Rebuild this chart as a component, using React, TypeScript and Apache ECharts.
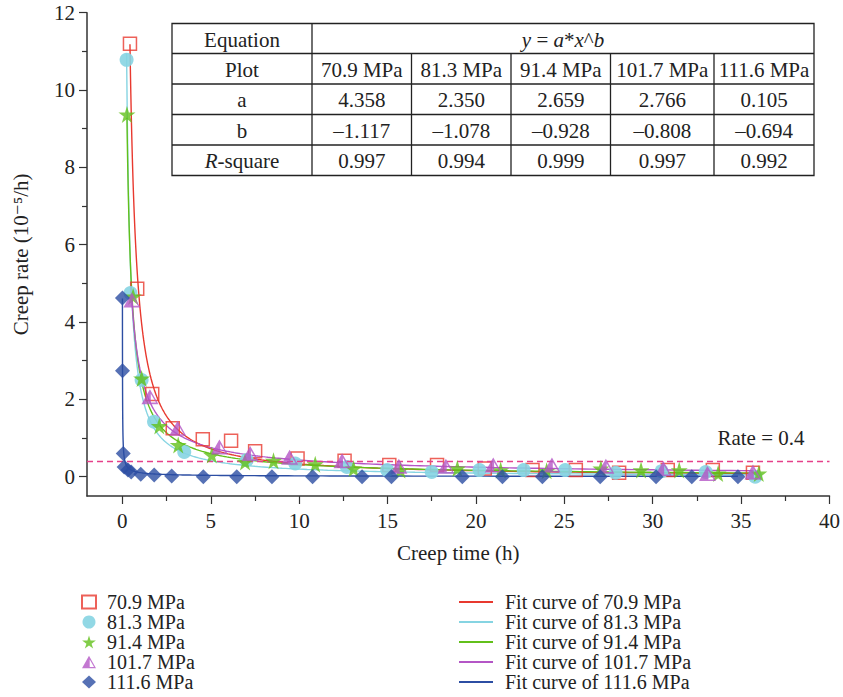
import React, { useEffect, useRef } from "react";
import * as echarts from "echarts";

// Measured creep rate (10^-5/h) against creep time (h) for each stress level
const stressLabels = ["70.9 MPa", "81.3 MPa", "91.4 MPa", "101.7 MPa", "111.6 MPa"];

const time709 = [0.43, 0.84, 1.69, 2.85, 4.55, 6.15, 7.51, 9.91, 12.57, 15.1, 17.8, 20.5, 23.2, 25.65, 28.1, 30.85, 33.4, 35.67];
const rate709 = [11.2, 4.86, 2.14, 1.25, 0.97, 0.93, 0.66, 0.47, 0.41, 0.3, 0.3, 0.21, 0.17, 0.17, 0.1, 0.17, 0.17, 0.1];

const time813 = [0.24, 0.46, 1.09, 1.79, 3.5, 7.04, 9.78, 12.7, 14.98, 17.5, 20.2, 22.7, 25.05, 27.9, 30.5, 33.0, 35.8];
const rate813 = [10.78, 4.75, 2.5, 1.42, 0.64, 0.43, 0.34, 0.25, 0.17, 0.12, 0.17, 0.17, 0.17, 0.1, 0.14, 0.12, 0.0];

const time914 = [0.26, 0.61, 1.09, 2.09, 3.16, 5.06, 6.94, 8.55, 10.91, 13.08, 15.73, 18.95, 21.4, 24.0, 27.07, 29.34, 31.5, 33.7, 36.0];
const rate914 = [9.37, 4.66, 2.54, 1.31, 0.82, 0.56, 0.38, 0.41, 0.32, 0.21, 0.17, 0.21, 0.17, 0.15, 0.21, 0.17, 0.17, 0.08, 0.08];

const time1017 = [0.54, 1.56, 3.13, 5.49, 7.23, 9.46, 12.43, 15.64, 18.3, 20.98, 24.3, 27.35, 30.6, 33.1, 35.67];
const rate1017 = [4.57, 2.07, 1.25, 0.77, 0.6, 0.5, 0.41, 0.27, 0.27, 0.3, 0.3, 0.27, 0.21, 0.08, 0.12];

const time1116 = [0.0043, 0.009, 0.05, 0.1, 0.32, 0.5, 1.04, 1.8, 2.79, 4.58, 6.47, 8.46, 10.76, 13.56, 15.22, 19.23, 21.5, 23.76, 27.03, 30.19, 32.21, 34.82];
const rate1116 = [4.62, 2.74, 0.6, 0.25, 0.17, 0.12, 0.06, 0.04, 0.02, 0.0, 0.0, 0.0, 0.0, 0.0, 0.0, 0.0, 0.0, 0.0, 0.0, 0.0, 0.0, 0.0];

// Power-law fit parameters y = a * x^b
const fitA = [4.358, 2.35, 2.659, 2.766, 0.105];
const fitB = [-1.117, -1.078, -0.928, -0.808, -0.694];
const aText = ["4.358", "2.350", "2.659", "2.766", "0.105"];
const bText = ["\u20131.117", "\u20131.078", "\u20130.928", "\u20130.808", "\u20130.694"];
const r2Text = ["0.997", "0.994", "0.999", "0.997", "0.992"];

const rateThreshold = 0.4;

const xMajorTicks = [0, 5, 10, 15, 20, 25, 30, 35, 40];
const xMinorTicks = [2.5, 7.5, 12.5, 17.5, 22.5, 27.5, 32.5, 37.5];
const yMajorTicks = [0, 2, 4, 6, 8, 10, 12];
const yMinorTicks = [1, 3, 5, 7, 9, 11];

const times = [time709, time813, time914, time1017, time1116];
const rates = [rate709, rate813, rate914, rate1017, rate1116];

const colors = ["#e8392f", "#86d4e2", "#62c01a", "#b456c6", "#2c4ea3"];
const FONT = '"Liberation Serif", "DejaVu Serif", serif';
const FS = 21;
const LEGEND_FS = 20;

const STAR = "path://M50,0 L61,35 L98,35 L68,57 L79,91 L50,70 L21,91 L32,57 L2,35 L39,35 Z";
const HALF_TRI = "path://M50,0 L100,90 L0,90 Z M55,28 L55,80 L86,80 Z";

function fitCurve(k: number): number[][] {
  const xs = times[k];
  const x0 = xs[0];
  const x1 = xs[xs.length - 1];
  const n = 240;
  const pts: number[][] = [];
  for (let i = 0; i <= n; i++) {
    const x = x0 * Math.pow(x1 / x0, i / n);
    pts.push([x, fitA[k] * Math.pow(x, fitB[k])]);
  }
  return pts;
}

function buildTable(): any[] {
  const cols = [172, 312, 411.5, 511, 610.5, 714, 814];
  const rows = [23.5, 53.5, 84, 114.5, 145, 175.5];
  const stroke = { stroke: "#222", lineWidth: 1.3 };
  const els: any[] = [];
  els.push({
    type: "rect",
    shape: { x: cols[0], y: rows[0], width: cols[6] - cols[0], height: rows[5] - rows[0] },
    style: { fill: "#fff", ...stroke },
    z: 10,
  });
  for (let r = 1; r < 5; r++) {
    els.push({ type: "line", shape: { x1: cols[0], y1: rows[r], x2: cols[6], y2: rows[r] }, style: stroke, z: 11 });
  }
  els.push({ type: "line", shape: { x1: cols[1], y1: rows[0], x2: cols[1], y2: rows[5] }, style: stroke, z: 11 });
  for (let c = 2; c < 6; c++) {
    els.push({ type: "line", shape: { x1: cols[c], y1: rows[1], x2: cols[c], y2: rows[5] }, style: stroke, z: 11 });
  }
  const cell = (text: string, cx: number, cy: number, rich?: any) => ({
    type: "text",
    x: cx,
    y: cy + 1,
    z: 12,
    style: {
      text,
      fill: "#222",
      font: `${FS}px ${FONT}`,
      align: "center",
      verticalAlign: "middle",
      rich,
    },
  });
  const mid = (arr: number[], i: number) => (arr[i] + arr[i + 1]) / 2;
  const italic = { i: { fontStyle: "italic", fontSize: FS, fontFamily: FONT, fill: "#222" } };
  els.push(cell("Equation", mid(cols, 0), mid(rows, 0)));
  els.push(cell("{i|y} = {i|a}*{i|x}^{i|b}", (cols[1] + cols[6]) / 2, mid(rows, 0), italic));
  els.push(cell("Plot", mid(cols, 0), mid(rows, 1)));
  els.push(cell("a", mid(cols, 0), mid(rows, 2)));
  els.push(cell("b", mid(cols, 0), mid(rows, 3)));
  els.push(cell("{i|R}-square", mid(cols, 0), mid(rows, 4), italic));
  for (let k = 0; k < 5; k++) {
    const cx = mid(cols, k + 1);
    els.push(cell(stressLabels[k], cx, mid(rows, 1)));
    els.push(cell(aText[k], cx, mid(rows, 2)));
    els.push(cell(bText[k], cx, mid(rows, 3)));
    els.push(cell(r2Text[k], cx, mid(rows, 4)));
  }
  return els;
}

export default function App() {
  const ref = useRef<HTMLDivElement>(null);

  useEffect(() => {
    if (!ref.current) return;
    const chart = echarts.init(ref.current, null, { renderer: "svg" });

    const symbols = ["rect", "circle", STAR, HALF_TRI, "diamond"];
    const sizes = [13, 14, 17, [17, 15], 15];

    const fitSeries: any[] = stressLabels.map((label, k) => ({
      type: "line",
      name: `Fit curve of ${label}`,
      data: fitCurve(k),
      showSymbol: false,
      symbol: "none",
      color: colors[k],
      lineStyle: { color: colors[k], width: 1.4 },
      z: 2,
      ...(k === 0
        ? {
            markLine: {
              silent: true,
              symbol: "none",
              lineStyle: { color: "#e5408a", type: [6, 4], width: 1.3 },
              label: {
                show: true,
                position: "insideEndTop",
                formatter: "Rate = 0.4",
                color: "#222",
                fontFamily: FONT,
                fontSize: FS,
                padding: [0, 20, 8, 0],
              },
              data: [{ yAxis: rateThreshold }],
            },
          }
        : {}),
    }));

    const pointSeries: any[] = stressLabels.map((label, k) => ({
      type: "scatter",
      name: label,
      data: times[k].map((t, i) => [t, rates[k][i]]),
      symbol: symbols[k],
      symbolSize: sizes[k],
      color: colors[k],
      itemStyle:
        k === 0
          ? { color: "rgba(255,255,255,0)", borderColor: colors[0], borderWidth: 1.5 }
          : k === 1
          ? { color: colors[1], opacity: 0.9 }
          : { color: colors[k] },
      z: 3 + k,
    }));

    const legendText = { fontFamily: FONT, fontSize: LEGEND_FS, color: "#222", lineHeight: 20 };

    chart.setOption({
      animation: false,
      backgroundColor: "#fff",
      textStyle: { fontFamily: FONT },
      grid: { left: 87, right: 12, top: 12.7, bottom: 201, containLabel: false },
      xAxis: [
        {
          type: "value",
          min: -2,
          max: 40,
          position: "bottom",
          name: "Creep time (h)",
          nameLocation: "middle",
          nameGap: 46,
          nameTextStyle: { fontFamily: FONT, fontSize: FS, color: "#222" },
          axisLine: { onZero: false, lineStyle: { color: "#333", width: 1.5 } },
          axisTick: { customValues: xMajorTicks, length: 8, lineStyle: { color: "#333", width: 1.2 } },
          axisLabel: { customValues: xMajorTicks, fontFamily: FONT, fontSize: FS, color: "#222", margin: 14 },
          splitLine: { show: false },
        },
        {
          type: "value",
          min: -2,
          max: 40,
          position: "bottom",
          axisLine: { show: false, onZero: false },
          axisTick: { customValues: xMinorTicks, length: 5, lineStyle: { color: "#333", width: 1.2 } },
          axisLabel: { show: false },
          splitLine: { show: false },
        },
      ],
      yAxis: [
        {
          type: "value",
          min: -0.5,
          max: 12,
          name: "Creep rate (10\u207B\u2075/h)",
          nameLocation: "middle",
          nameGap: 56,
          nameTextStyle: { fontFamily: FONT, fontSize: FS, color: "#222" },
          axisLine: { show: true, onZero: false, lineStyle: { color: "#333", width: 1.5 } },
          axisTick: { show: true, customValues: yMajorTicks, length: 8, lineStyle: { color: "#333", width: 1.2 } },
          axisLabel: { customValues: yMajorTicks, fontFamily: FONT, fontSize: FS, color: "#222", margin: 12 },
          splitLine: { show: false },
        },
        {
          type: "value",
          min: -0.5,
          max: 12,
          position: "left",
          axisLine: { show: false, onZero: false },
          axisTick: { show: true, customValues: yMinorTicks, length: 5, lineStyle: { color: "#333", width: 1.2 } },
          axisLabel: { show: false },
          splitLine: { show: false },
        },
      ],
      legend: [
        {
          orient: "vertical",
          left: 81,
          top: 592,
          padding: 0,
          itemWidth: 14,
          itemHeight: 13,
          itemGap: 0,
          data: stressLabels,
          textStyle: { ...legendText, padding: [0, 0, 0, 6] },
        },
        {
          orient: "vertical",
          left: 459,
          top: 592,
          padding: 0,
          icon: "rect",
          itemWidth: 34,
          itemHeight: 2,
          itemGap: 0,
          data: stressLabels.map((l) => `Fit curve of ${l}`),
          textStyle: { ...legendText, padding: [0, 0, 0, 7] },
        },
      ],
      graphic: buildTable(),
      series: [...fitSeries, ...pointSeries],
    });

    return () => chart.dispose();
  }, []);

  return (
    <div
      ref={ref}
      style={{ position: "fixed", left: 0, top: 0, width: 843, height: 697 }}
    />
  );
}
